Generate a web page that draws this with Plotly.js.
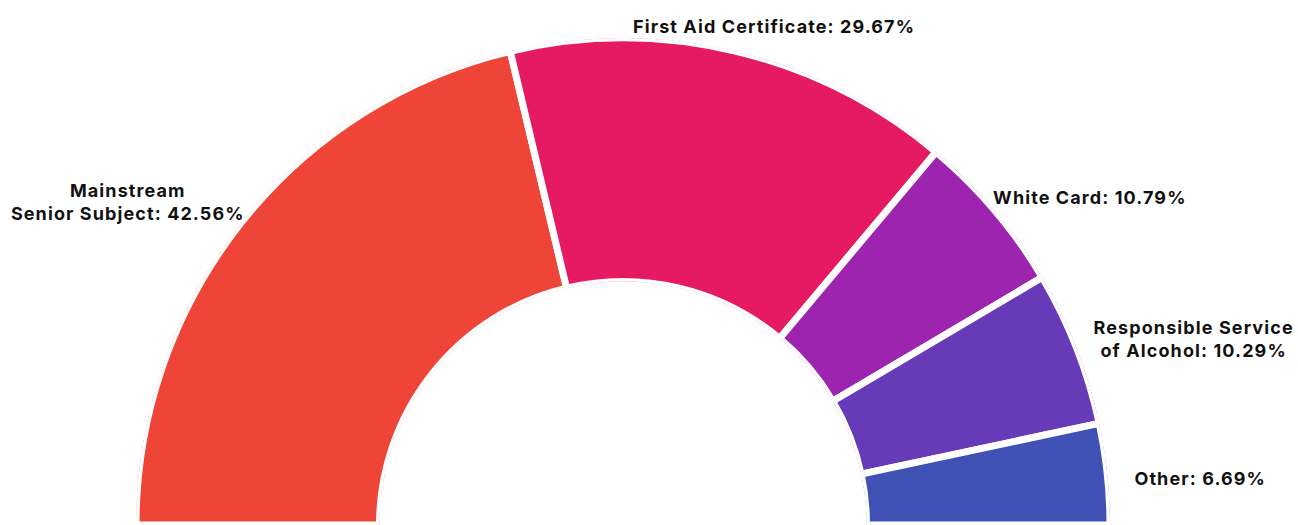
<!DOCTYPE html>
<html>
<head>
<meta charset="utf-8">
<script src="https://cdn.plot.ly/plotly-3.0.1.min.js"></script>
<style>
html,body{margin:0;padding:0;background:#fff;}
#chart{width:1298px;height:525px;}
#chart .annotation-text{letter-spacing:1.1px;}
</style>
</head>
<body>
<div id="chart"></div>
<script>
const categories = ["Mainstream Senior Subject", "First Aid Certificate", "White Card", "Responsible Service of Alcohol", "Other"];
const labelTexts = ["Mainstream<br>Senior Subject: 42.56%", "First Aid Certificate: 29.67%", "White Card: 10.79%", "Responsible Service<br>of Alcohol: 10.29%", "Other: 6.69%"];
const shares = [42.56, 29.67, 10.79, 10.29, 6.69];
const colors = ["#EF4438", "#E61A63", "#9C24AE", "#673AB7", "#3F51B5"];

// convert shares to angular spans on a half circle (180 degrees)
const total = shares.reduce((a, b) => a + b, 0);
const widths = shares.map(v => v / total * 180);
const mids = [];
let acc = 0;
widths.forEach(w => { mids.push(acc + w / 2); acc += w; });

const trace = {
  type: "barpolar",
  theta: mids,
  r: shares.map(() => 1),
  width: widths,
  text: categories,
  marker: { color: colors, line: { color: "#ffffff", width: 7 } },
  hoverinfo: "text",
  showlegend: false
};

const labelPos = [
  { x: 128, y: 202 },
  { x: 774, y: 27 },
  { x: 1090, y: 197 },
  { x: 1194, y: 339 },
  { x: 1200, y: 478 }
];
const W = 1298, H = 525;
const annotations = labelTexts.map((t, i) => ({
  text: t,
  xref: "paper", yref: "paper",
  x: labelPos[i].x / W, y: 1 - labelPos[i].y / H,
  xanchor: "center", yanchor: "middle",
  align: "center",
  showarrow: false,
  font: { family: "Inter, Roboto, sans-serif", size: 18, color: "#111111", weight: 700 }
}));

const layout = {
  width: W, height: H,
  margin: { l: 0, r: 0, t: 0, b: 0 },
  paper_bgcolor: "#ffffff",
  showlegend: false,
  polar: {
    domain: { x: [136 / W, 1110 / W], y: [0, 487 / H] },
    sector: [0, 180],
    hole: 0.5,
    bgcolor: "rgba(0,0,0,0)",
    angularaxis: { rotation: 180, direction: "clockwise", visible: false, showgrid: false, showline: false, ticks: "" },
    radialaxis: { range: [0, 1], visible: false, showgrid: false, showline: false }
  },
  annotations: annotations
};

Plotly.newPlot("chart", [trace], layout, { displayModeBar: false, staticPlot: true });
</script>
</body>
</html>
